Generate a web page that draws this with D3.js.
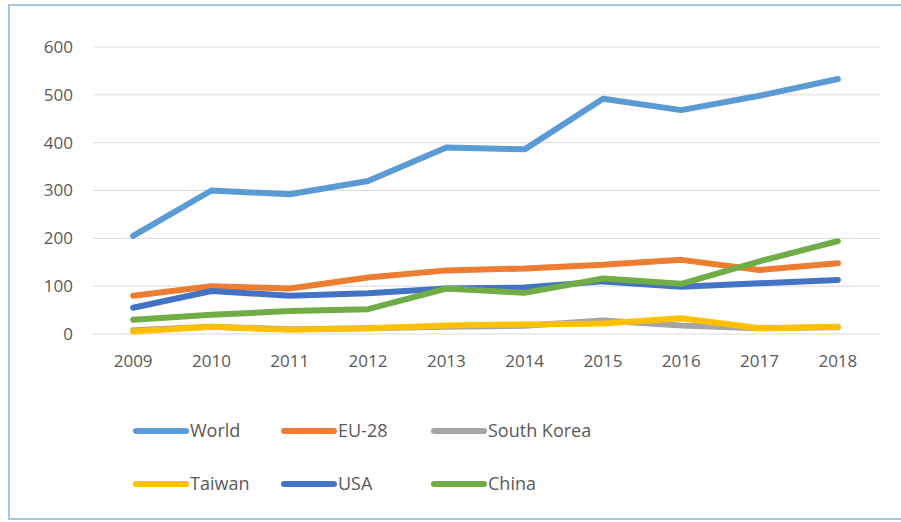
<!DOCTYPE html>
<html>
<head>
<meta charset="utf-8">
<script src="https://cdn.jsdelivr.net/npm/d3@7"></script>
<style>
  body { margin: 0; background: #fff; }
  text { font-family: "Open Sans", "Noto Sans", sans-serif; fill: #595959; }
</style>
</head>
<body>
<div id="chart"></div>
<script>
// DATA
var years = ["2009", "2010", "2011", "2012", "2013", "2014", "2015", "2016", "2017", "2018"];
var world = [205, 300, 292, 320, 390, 386, 492, 468, 498, 533];
var eu28 = [80, 100, 95, 118, 133, 137, 145, 155, 134, 148];
var southKorea = [8, 15, 10, 12, 15, 17, 28, 18, 12, 14];
var taiwan = [5, 15, 9, 12, 18, 20, 22, 33, 12, 15];
var usa = [55, 90, 80, 85, 95, 97, 110, 99, 106, 113];
var china = [30, 40, 48, 52, 95, 86, 116, 105, 152, 194];
var yTicks = [0, 100, 200, 300, 400, 500, 600];

var series = [
  { name: "World", values: world, color: "#5b9bd5" },
  { name: "EU-28", values: eu28, color: "#ed7d31" },
  { name: "South Korea", values: southKorea, color: "#a5a5a5" },
  { name: "Taiwan", values: taiwan, color: "#ffc000" },
  { name: "USA", values: usa, color: "#4472c4" },
  { name: "China", values: china, color: "#70ad47" }
];

var W = 901, H = 522;
var svg = d3.select("#chart").append("svg")
  .attr("width", W).attr("height", H);

// frame (right edge runs off the picture)
svg.append("rect")
  .attr("x", 9).attr("y", 5)
  .attr("width", W + 20).attr("height", 514)
  .attr("fill", "#fff")
  .attr("stroke", "#a9c4df").attr("stroke-width", 2);

// SCALES
var x = d3.scaleBand().domain(years).range([94, 877]);
var y = d3.scaleLinear().domain([0, 600]).range([334, 47]);

// GRID
svg.append("g").selectAll("line")
  .data(yTicks).enter().append("line")
  .attr("x1", 93).attr("x2", 880)
  .attr("y1", d => y(d)).attr("y2", d => y(d))
  .attr("stroke", "#d9d9d9").attr("stroke-width", 1);

// AXES
var yAxis = d3.axisLeft(y).tickValues(yTicks).tickSize(0).tickPadding(0);
var yG = svg.append("g").attr("transform", "translate(73,0)").call(yAxis);
yG.select(".domain").remove();
yG.selectAll("text").attr("font-size", "17px").style("fill", "#595959")
  .style("font-family", "'Open Sans', sans-serif");

var xAxis = d3.axisBottom(x).tickSize(0).tickPadding(0);
var xG = svg.append("g").attr("transform", "translate(0,355)").call(xAxis);
xG.select(".domain").remove();
xG.selectAll("text").attr("font-size", "17px").style("fill", "#595959")
  .style("font-family", "'Open Sans', sans-serif");

// LINES
var line = d3.line()
  .x((d, i) => x(years[i]) + x.bandwidth() / 2)
  .y(d => y(d));

svg.append("g").selectAll("path")
  .data(series).enter().append("path")
  .attr("d", d => line(d.values))
  .attr("fill", "none")
  .attr("stroke", d => d.color)
  .attr("stroke-width", 6)
  .attr("stroke-linejoin", "round")
  .attr("stroke-linecap", "round");

// LEGEND
var legX = [136, 284, 434];
var legY = [431, 484];
var leg = svg.append("g").selectAll("g")
  .data(series).enter().append("g")
  .attr("transform", (d, i) => "translate(" + legX[i % 3] + "," + legY[Math.floor(i / 3)] + ")");
leg.append("line")
  .attr("x1", 0).attr("x2", 50)
  .attr("stroke", d => d.color).attr("stroke-width", 6)
  .attr("stroke-linecap", "round");
leg.append("text")
  .attr("x", 54).attr("dy", "0.35em")
  .attr("font-size", "18px")
  .text(d => d.name);
</script>
</body>
</html>
